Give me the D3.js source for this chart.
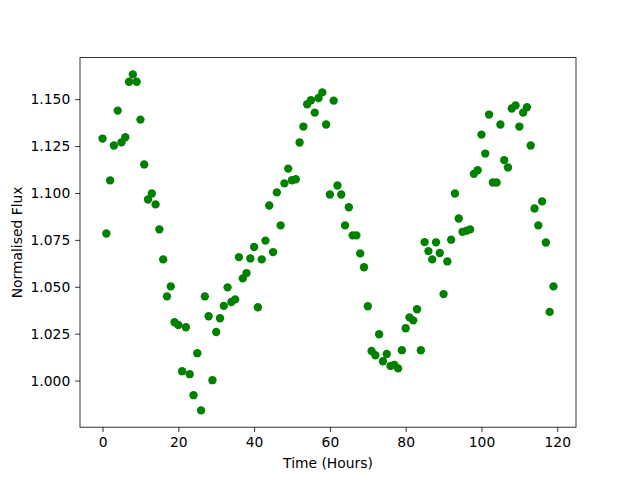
<!DOCTYPE html>
<html>
<head>
<meta charset="utf-8">
<script src="https://cdn.jsdelivr.net/npm/d3@7"></script>
<style>
  body { margin: 0; background: #fff; }
  text { font-family: "DejaVu Sans", sans-serif; }
</style>
</head>
<body>
<svg id="chart" width="640" height="480"></svg>
<script>
// time in hours, one reading per hour
var hours = d3.range(0, 120);

var flux = [
  1.1290, 1.0784, 1.1067, 1.1253, 1.1439, 1.1270, 1.1297, 1.1593, 1.1632, 1.1593,
  1.1391, 1.1152, 1.0965, 1.0997, 1.0939, 1.0806, 1.0646, 1.0449, 1.0502, 1.0311,
  1.0296, 1.0050, 1.0284, 1.0034, 0.9922, 1.0146, 0.9841, 1.0449, 1.0343, 1.0002,
  1.0259, 1.0332, 1.0398, 1.0497, 1.0419, 1.0433, 1.0658, 1.0545, 1.0573, 1.0651,
  1.0712, 1.0391, 1.0646, 1.0746, 1.0933, 1.0685, 1.1003, 1.0827, 1.1051, 1.1130,
  1.1068, 1.1073, 1.1269, 1.1354, 1.1473, 1.1494, 1.1428, 1.1506, 1.1536, 1.1365,
  1.0992, 1.1492, 1.1040, 1.0992, 1.0827, 1.0924, 1.0774, 1.0774, 1.0678, 1.0604,
  1.0396, 1.0158, 1.0135, 1.0247, 1.0103, 1.0142, 1.0078, 1.0084, 1.0065, 1.0162,
  1.0279, 1.0337, 1.0321, 1.0380, 1.0162, 1.0738, 1.0690, 1.0646, 1.0737, 1.0680,
  1.0461, 1.0635, 1.0751, 1.0997, 1.0864, 1.0793, 1.0798, 1.0806, 1.1102, 1.1121,
  1.1311, 1.1210, 1.1418, 1.1056, 1.1056, 1.1365, 1.1175, 1.1136, 1.1450, 1.1467,
  1.1354, 1.1428, 1.1457, 1.1253, 1.0917, 1.0827, 1.0955, 1.0736, 1.0366, 1.0502
];

var xTicks = [0, 20, 40, 60, 80, 100, 120];
var yTicks = [1.000, 1.025, 1.050, 1.075, 1.100, 1.125, 1.150];

var svg = d3.select("#chart"),
    margin = {top: 57.6, right: 64, bottom: 52.8, left: 80},
    width = +svg.attr("width") - margin.left - margin.right,
    height = +svg.attr("height") - margin.top - margin.bottom,
    g = svg.append("g").attr("transform", "translate(" + margin.left + "," + margin.top + ")");

var data = hours.map(function(h, i) { return {t: h, f: flux[i]}; });

// matplotlib-style 5% margins around the data
function padded(ext) {
  var p = (ext[1] - ext[0]) * 0.05;
  return [ext[0] - p, ext[1] + p];
}

var x = d3.scaleLinear().domain(padded(d3.extent(hours))).range([0, width]);
var y = d3.scaleLinear().domain(padded(d3.extent(flux))).range([height, 0]);

var fontPx = 13.89, tick = 4.86;

g.selectAll("circle")
  .data(data)
  .enter().append("circle")
    .attr("cx", function(d) { return x(d.t); })
    .attr("cy", function(d) { return y(d.f); })
    .attr("r", 4.17)
    .attr("fill", "#008000");

var xAxis = g.append("g")
    .attr("transform", "translate(0," + height + ")")
    .call(d3.axisBottom(x).tickValues(xTicks).tickFormat(d3.format("d"))
      .tickSizeInner(tick).tickSizeOuter(0).tickPadding(tick));

var yAxis = g.append("g")
    .call(d3.axisLeft(y).tickValues(yTicks).tickFormat(d3.format(".3f"))
      .tickSizeInner(tick).tickSizeOuter(0).tickPadding(tick));

[xAxis, yAxis].forEach(function(a) {
  a.select(".domain").remove();
  a.attr("font-family", null).attr("font-size", null);
  a.selectAll("line").attr("stroke", "#000").attr("stroke-width", 0.8);
  a.selectAll("text").attr("fill", "#000").style("font-size", fontPx + "px");
});

// frame
g.append("rect")
  .attr("width", width)
  .attr("height", height)
  .attr("fill", "none")
  .attr("stroke", "#000")
  .attr("stroke-width", 0.8);

svg.append("text")
  .attr("x", margin.left + width / 2)
  .attr("y", 468)
  .attr("text-anchor", "middle")
  .style("font-size", fontPx + "px")
  .text("Time (Hours)");

svg.append("text")
  .attr("transform", "translate(22," + (margin.top + height / 2) + ") rotate(-90)")
  .attr("text-anchor", "middle")
  .style("font-size", fontPx + "px")
  .text("Normalised Flux");
</script>
</body>
</html>
